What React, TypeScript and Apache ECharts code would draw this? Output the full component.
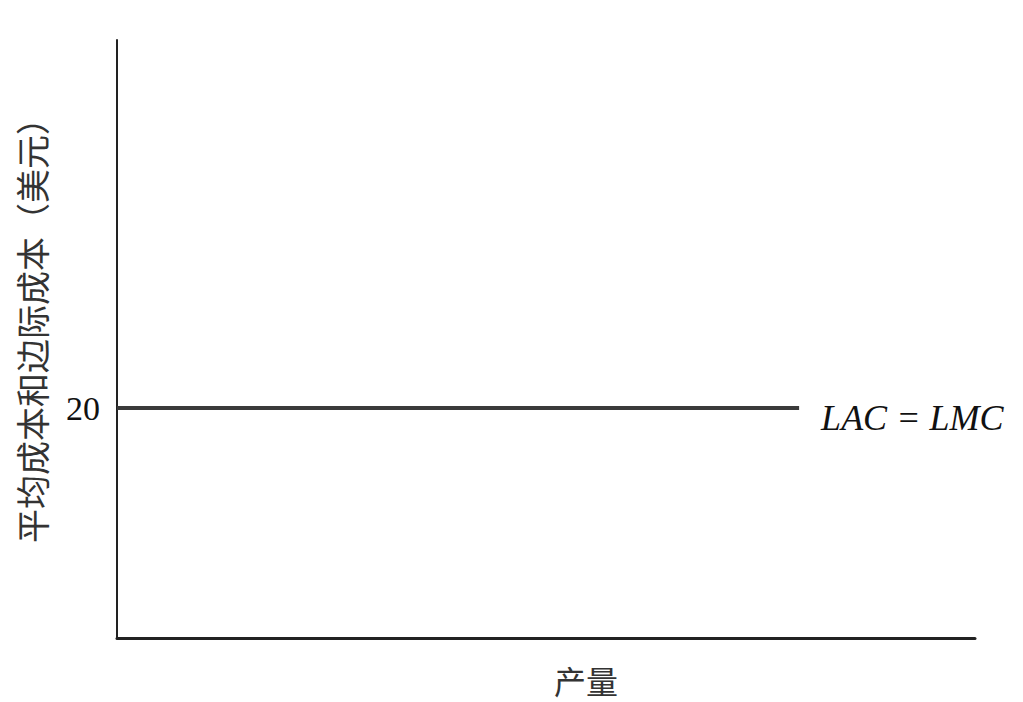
import React, { useEffect, useRef } from "react";
import * as echarts from "echarts";

const costLevel = 20;
const quantityRange = [0, 79.5];
const yTickLabels = ["20"];
const curveLabel = "LAC = LMC";
const yAxisTitle = "平均成本和边际成本（美元）";
const xAxisTitle = "产量";

const lineData = quantityRange.map((q) => [q, costLevel]);

export default function App() {
  const ref = useRef<HTMLDivElement>(null);
  useEffect(() => {
    if (!ref.current) return;
    const chart = echarts.init(ref.current, undefined, { renderer: "svg" });
    chart.setOption({
      animation: false,
      backgroundColor: "#ffffff",
      grid: { left: 117, top: 40, right: 48, bottom: 64 },
      xAxis: {
        type: "value",
        min: 0,
        max: 100,
        axisLine: { show: true, lineStyle: { color: "#222", width: 3 } },
        axisTick: { show: false },
        axisLabel: { show: false },
        splitLine: { show: false },
      },
      yAxis: {
        type: "value",
        min: 0,
        max: 52,
        interval: 20,
        axisLine: { show: true, lineStyle: { color: "#222", width: 2 } },
        axisTick: { show: false },
        splitLine: { show: false },
        axisLabel: {
          margin: 17,
          fontFamily: "Liberation Serif",
          fontSize: 34,
          color: "#111",
          padding: [12, 0, 0, 0],
          formatter: (v: number) => (yTickLabels.includes(String(v)) ? String(v) : ""),
        },
      },
      graphic: [
        {
          type: "text",
          x: 31,
          y: 322,
          rotation: Math.PI / 2,
          style: {
            text: yAxisTitle,
            fontFamily: "Noto Sans CJK SC",
            fontSize: 34,
            fill: "#333",
            align: "center",
            verticalAlign: "middle",
          },
        },
        {
          type: "text",
          x: 586,
          y: 680,
          style: {
            text: xAxisTitle,
            fontFamily: "Noto Sans CJK SC",
            fontSize: 32,
            fill: "#333",
            align: "center",
            verticalAlign: "middle",
          },
        },
      ],
      series: [
        {
          type: "line",
          data: lineData,
          symbol: "none",
          lineStyle: { color: "#3a3a3a", width: 4 },
          endLabel: {
            show: true,
            formatter: curveLabel,
            fontFamily: "Liberation Serif",
            fontStyle: "italic",
            fontSize: 36,
            color: "#111",
            distance: 22,
            offset: [0, 10],
          },
        },
      ],
    });
    return () => chart.dispose();
  }, []);
  return (
    <div
      ref={ref}
      style={{ position: "fixed", left: 0, top: 0, width: 1023, height: 702 }}
    />
  );
}
